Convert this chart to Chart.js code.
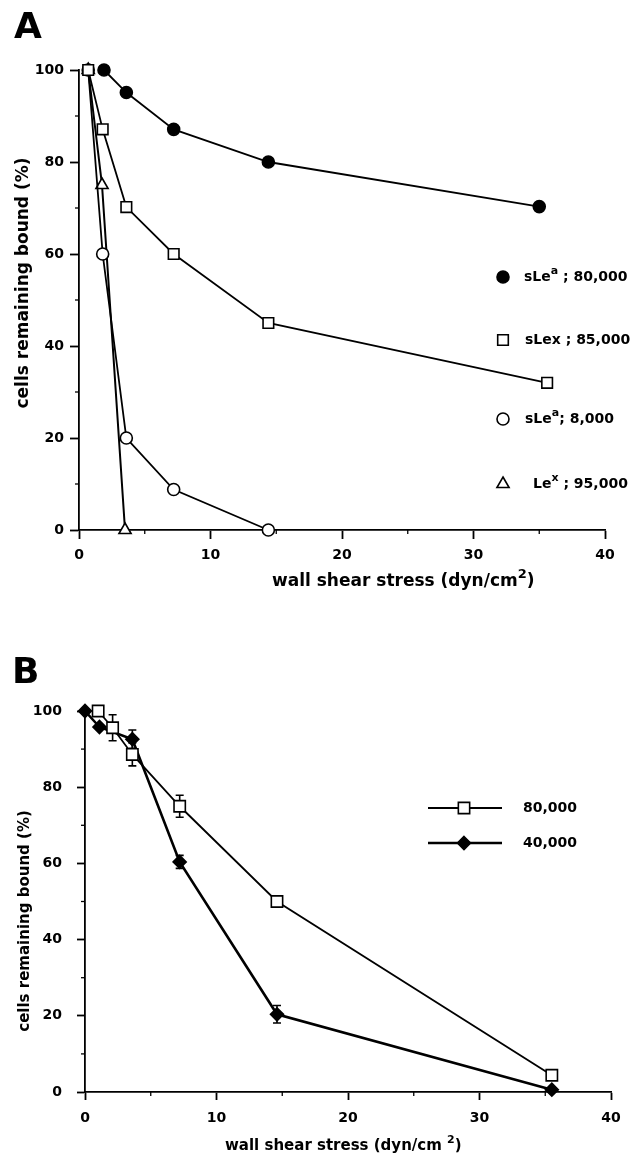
<!DOCTYPE html>
<html>
<head>
<meta charset="utf-8">
<script src="https://cdn.jsdelivr.net/npm/chart.js@4.4.1/dist/chart.umd.min.js"></script>
<style>
  body { margin: 0; background: #fff; }
  #wrapA { position: absolute; left: 0; top: 0; width: 631px; height: 600px; }
  #wrapB { position: absolute; left: 0; top: 600px; width: 631px; height: 563px; }
</style>
</head>
<body>
<div id="wrapA"><canvas id="chartA"></canvas></div>
<div id="wrapB"><canvas id="chartB"></canvas></div>
<script>
// ---- panel A data (wall shear stress, % cells remaining bound)
const aSLea80X = [1.9, 3.6, 7.2, 14.4, 35.0];
const aSLea80Y = [100, 95.1, 87.1, 80, 70.3];
const aSLex85X = [0.7, 1.8, 3.6, 7.2, 14.4, 35.6];
const aSLex85Y = [100, 87.1, 70.2, 60, 45, 32];
const aSLea8X = [0.7, 1.8, 3.6, 7.2, 14.4];
const aSLea8Y = [100, 60, 20, 8.8, 0];
const aLex95X = [0.7, 1.75, 3.5];
const aLex95Y = [100, 75, 0];

// ---- panel B data
const b80X = [1.0, 2.1, 3.6, 7.2, 14.6, 35.5];
const b80Y = [100, 95.6, 88.6, 75, 50, 4.4];
const b80Err = [0, 3.4, 3, 2.9, 1.5, 0];
const b40X = [0, 1.1, 3.6, 7.2, 14.6, 35.5];
const b40Y = [100, 95.8, 92.6, 60.4, 20.4, 0.6];
const b40Err = [0, 0, 2.4, 1.7, 2.3, 0];

// ---- text
const yTitle = 'cells remaining bound (%)';
const xTitleA = [{ t: 'wall shear stress (dyn/cm' }, { t: '2', sup: true }, { t: ')' }];
const xTitleB = [{ t: 'wall shear stress (dyn/cm ' }, { t: '2', sup: true }, { t: ')' }];
const legendA = [
  [{ t: 'sLe' }, { t: 'a', sup: true }, { t: ' ; 80,000' }],
  [{ t: 'sLex ; 85,000' }],
  [{ t: 'sLe' }, { t: 'a', sup: true }, { t: '; 8,000' }],
  [{ t: 'Le' }, { t: 'x', sup: true }, { t: ' ; 95,000' }]
];
const legendB = ['80,000', '40,000'];

const FONT = '"DejaVu Sans", sans-serif';

function pts(xs, ys) {
  return xs.map((x, i) => ({ x: x, y: ys[i] }));
}

function drawRich(ctx, parts, x, y, size) {
  const supSize = Math.round(size * 0.75);
  ctx.textAlign = 'left';
  ctx.textBaseline = 'middle';
  let cx = x;
  parts.forEach(p => {
    ctx.font = 'bold ' + (p.sup ? supSize : size) + 'px ' + FONT;
    ctx.fillText(p.t, cx, p.sup ? y - size * 0.42 : y);
    cx += ctx.measureText(p.t).width;
  });
}

function marker(ctx, style, x, y, r, filled) {
  ctx.beginPath();
  if (style === 'circle') {
    ctx.arc(x, y, r, 0, Math.PI * 2);
  } else if (style === 'rect') {
    const s = r * Math.SQRT1_2;
    ctx.rect(x - s, y - s, 2 * s, 2 * s);
  } else if (style === 'triangle') {
    ctx.moveTo(x, y - r);
    ctx.lineTo(x + r * 0.866, y + r * 0.5);
    ctx.lineTo(x - r * 0.866, y + r * 0.5);
    ctx.closePath();
  } else if (style === 'rectRot') {
    ctx.moveTo(x, y - r);
    ctx.lineTo(x + r, y);
    ctx.lineTo(x, y + r);
    ctx.lineTo(x - r, y);
    ctx.closePath();
  }
  ctx.fillStyle = filled ? '#000' : '#fff';
  ctx.fill();
  ctx.lineWidth = 1.6;
  ctx.strokeStyle = '#000';
  ctx.stroke();
}

// small ticks between the labelled ones
const minorTicks = {
  id: 'minorTicks',
  afterDraw(chart) {
    const ctx = chart.ctx;
    const xs = chart.scales.x, ys = chart.scales.y;
    const a = chart.chartArea;
    ctx.save();
    ctx.strokeStyle = '#000';
    ctx.lineWidth = 1.3;
    [10, 30, 50, 70, 90].forEach(v => {
      const py = ys.getPixelForValue(v);
      ctx.beginPath(); ctx.moveTo(a.left - 4, py); ctx.lineTo(a.left, py); ctx.stroke();
    });
    [5, 15, 25, 35].forEach(v => {
      const px = xs.getPixelForValue(v);
      ctx.beginPath(); ctx.moveTo(px, a.bottom); ctx.lineTo(px, a.bottom + 4); ctx.stroke();
    });
    ctx.restore();
  }
};

const errorBars = {
  id: 'errorBars',
  beforeDatasetsDraw(chart) {
    const ctx = chart.ctx;
    const ys = chart.scales.y;
    ctx.save();
    ctx.strokeStyle = '#000';
    ctx.lineWidth = 1.6;
    chart.data.datasets.forEach((ds, di) => {
      if (!ds.errs) return;
      const meta = chart.getDatasetMeta(di);
      meta.data.forEach((el, i) => {
        const e = ds.errs[i];
        if (!e) return;
        const top = ys.getPixelForValue(ds.data[i].y + e);
        const bot = ys.getPixelForValue(ds.data[i].y - e);
        ctx.beginPath();
        ctx.moveTo(el.x, top); ctx.lineTo(el.x, bot);
        ctx.moveTo(el.x - 4, top); ctx.lineTo(el.x + 4, top);
        ctx.moveTo(el.x - 4, bot); ctx.lineTo(el.x + 4, bot);
        ctx.stroke();
      });
    });
    ctx.restore();
  }
};

const decorA = {
  id: 'decorA',
  afterDraw(chart) {
    const ctx = chart.ctx;
    ctx.save();
    ctx.fillStyle = '#000';
    ctx.font = 'bold 36px ' + FONT;
    ctx.textBaseline = 'alphabetic';
    ctx.textAlign = 'left';
    ctx.fillText('A', 14, 38);

    ctx.save();
    ctx.translate(24, 283);
    ctx.rotate(-Math.PI / 2);
    ctx.font = 'bold 17px ' + FONT;
    ctx.textAlign = 'center';
    ctx.textBaseline = 'middle';
    ctx.fillText(yTitle, 0, 0);
    ctx.restore();

    drawRich(ctx, xTitleA, 272, 582, 17);

    const rows = [
      { style: 'circle', r: 6, filled: true, y: 277, tx: 524 },
      { style: 'rect', r: 7.5, filled: false, y: 340, tx: 525 },
      { style: 'circle', r: 6, filled: false, y: 419, tx: 525 },
      { style: 'triangle', r: 7, filled: false, y: 484, tx: 533 }
    ];
    rows.forEach((row, i) => {
      marker(ctx, row.style, 503, row.y, row.r, row.filled);
      ctx.fillStyle = '#000';
      drawRich(ctx, legendA[i], row.tx, row.y, 14);
    });
    ctx.restore();
  }
};

const decorB = {
  id: 'decorB',
  afterDraw(chart) {
    const ctx = chart.ctx;
    ctx.save();
    ctx.fillStyle = '#000';
    ctx.font = 'bold 36px ' + FONT;
    ctx.textBaseline = 'alphabetic';
    ctx.textAlign = 'left';
    ctx.fillText('B', 12, 83);

    ctx.save();
    ctx.translate(25, 321);
    ctx.rotate(-Math.PI / 2);
    ctx.font = 'bold 15px ' + FONT;
    ctx.textAlign = 'center';
    ctx.textBaseline = 'middle';
    ctx.fillText(yTitle, 0, 0);
    ctx.restore();

    drawRich(ctx, xTitleB, 225, 546, 15);

    const rows = [
      { style: 'rect', r: 8, filled: false, y: 208, lw: 1.8 },
      { style: 'rectRot', r: 6.5, filled: true, y: 243, lw: 2.6 }
    ];
    rows.forEach((row, i) => {
      ctx.strokeStyle = '#000';
      ctx.lineWidth = row.lw;
      ctx.beginPath(); ctx.moveTo(428, row.y); ctx.lineTo(502, row.y); ctx.stroke();
      marker(ctx, row.style, 464, row.y, row.r, row.filled);
      ctx.fillStyle = '#000';
      ctx.font = 'bold 14px ' + FONT;
      ctx.textAlign = 'left';
      ctx.textBaseline = 'middle';
      ctx.fillText(legendB[i], 523, row.y);
    });
    ctx.restore();
  }
};

function series(data, style, r, filled, lw) {
  return {
    data: data,
    showLine: true,
    borderColor: '#000',
    borderWidth: lw,
    pointStyle: style,
    pointRadius: r,
    pointBackgroundColor: filled ? '#000' : '#fff',
    pointBorderColor: '#000',
    pointBorderWidth: 1.6,
    clip: false
  };
}

function scales(o) {
  const tickFont = { family: FONT, weight: 'bold', size: o.font };
  return {
    x: {
      type: 'linear', min: 0, max: 40,
      ticks: { stepSize: 10, color: '#000', font: tickFont, padding: o.xPad, maxRotation: 0 },
      grid: { drawOnChartArea: false, drawTicks: true, tickLength: o.tick, tickColor: '#000', tickWidth: 1.8 },
      border: { color: '#000', width: 1.8 },
      afterFit: s => { s.height = o.xH; }
    },
    y: {
      type: 'linear', min: 0, max: 100,
      ticks: { stepSize: 20, color: '#000', font: tickFont, padding: o.yPad },
      grid: { drawOnChartArea: false, drawTicks: true, tickLength: o.tick, tickColor: '#000', tickWidth: 1.8 },
      border: { color: '#000', width: 1.8 },
      afterFit: s => { s.width = o.yW; }
    }
  };
}

const common = {
  responsive: true,
  maintainAspectRatio: false,
  animation: false,
  plugins: { legend: { display: false }, tooltip: { enabled: false } }
};

new Chart(document.getElementById('chartA'), {
  type: 'scatter',
  data: {
    datasets: [
      series(pts(aSLea80X, aSLea80Y), 'circle', 6, true, 1.8),
      series(pts(aSLex85X, aSLex85Y), 'rect', 7.5, false, 1.8),
      series(pts(aSLea8X, aSLea8Y), 'circle', 6, false, 1.8),
      series(pts(aLex95X, aLex95Y), 'triangle', 7, false, 2)
    ]
  },
  options: Object.assign({}, common, {
    layout: { padding: { left: 0, right: 26, top: 70, bottom: 0 } },
    scales: scales({ xH: 70, yW: 79, tick: 9, xPad: 8, yPad: 6, font: 14 })
  }),
  plugins: [minorTicks, decorA]
});

const ds80 = series(pts(b80X, b80Y), 'rect', 8, false, 1.8);
ds80.errs = b80Err;
const ds40 = series(pts(b40X, b40Y), 'rectRot', 6.5, true, 2.6);
ds40.errs = b40Err;

new Chart(document.getElementById('chartB'), {
  type: 'scatter',
  data: { datasets: [ds80, ds40] },
  options: Object.assign({}, common, {
    layout: { padding: { left: 0, right: 20, top: 111, bottom: 0 } },
    scales: scales({ xH: 71, yW: 85, tick: 8, xPad: 10, yPad: 15, font: 14 })
  }),
  plugins: [minorTicks, errorBars, decorB]
});
</script>
</body>
</html>
